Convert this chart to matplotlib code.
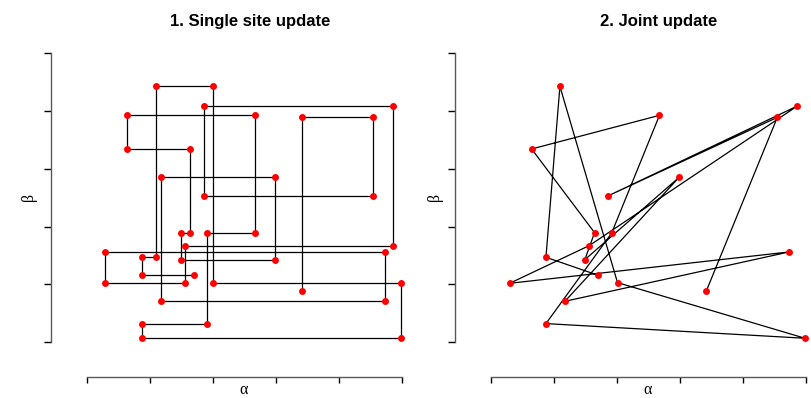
import matplotlib
matplotlib.use("Agg")
import matplotlib.pyplot as plt
import numpy as np

# Full-sweep samples (alpha_t, beta_t), in order
alpha = [1.702, 0.872, 1.094, 2.008, 4.984, 0.872, 1.913, 2.674, 0.645, 1.644,
         1.490, 2.986, 1.173, 4.730, 0.296, 1.559, 4.863, 1.855, 4.545, 3.420]
beta = [1.155, 1.467, 4.428, 1.028, 0.064, 0.318, 1.882, 3.926, 3.343, 1.894,
        1.426, 2.852, 0.704, 1.559, 1.016, 1.669, 4.088, 2.529, 3.891, 0.889]
ticks = [0, 1, 2, 3, 4, 5]
titles = ["1. Single site update", "2. Joint update"]

W, H = 811, 398
fig = plt.figure(figsize=(W / 100, H / 100), dpi=100)

def px_axes(x0, x1, ytop, ybot):
    return fig.add_axes([x0 / W, (H - ybot) / H, (x1 - x0) / W, (ybot - ytop) / H])

def style(ax, left_off):
    ax.set_xlim(-0.2, 5.2)
    ax.set_ylim(-0.2, 5.2)
    for s in ["top", "right"]:
        ax.spines[s].set_visible(False)
    ax.spines["left"].set_position(("outward", left_off))
    ax.spines["bottom"].set_position(("outward", 16.7))
    ax.spines["left"].set_bounds(0, 5)
    ax.spines["bottom"].set_bounds(0, 5)
    for s in ["left", "bottom"]:
        ax.spines[s].set_color("0.35")
        ax.spines[s].set_linewidth(1.0)
    ax.set_xticks(ticks)
    ax.set_yticks(ticks)
    ax.set_xticklabels([])
    ax.set_yticklabels([])
    ax.tick_params(axis="y", length=5, width=1.0, color="black")
    ax.tick_params(axis="x", length=4.5, width=1.0, color="black")
    ax.patch.set_visible(False)

# Left panel: single-site path (alpha update, then beta update)
ax1 = px_axes(74.1, 414.6, 41.8, 353.5)
style(ax1, 16.3)
xp, yp = [alpha[0]], [beta[0]]
for t in range(1, len(alpha)):
    xp.append(alpha[t]); yp.append(beta[t - 1])
    xp.append(alpha[t]); yp.append(beta[t])
ax1.plot(xp, yp, color="black", lw=0.9, zorder=2)
ax1.plot(xp, yp, linestyle="none", marker="o", ms=5, color="red",
         markeredgewidth=0, zorder=3, clip_on=False)

# Right panel: joint update
ax2 = px_axes(478.4, 818.6, 41.8, 353.5)
style(ax2, 16.8)
ax2.plot(alpha, beta, color="black", lw=0.9, zorder=2)
ax2.plot(alpha, beta, linestyle="none", marker="o", ms=5, color="red",
         markeredgewidth=0, zorder=3, clip_on=False)

# Titles and labels
tfont = dict(family="Liberation Sans", weight="bold", size=12)
fig.text(250 / W, (H - 26) / H, titles[0], ha="center", va="baseline", **tfont)
fig.text(659 / W, (H - 26) / H, titles[1], ha="center", va="baseline", **tfont)
lfont = dict(family="Liberation Serif", size=11.5)
for xa, xb in [(244, 29.5), (648, 434.5)]:
    fig.text(xa / W, (H - 389.5) / H, "α", ha="center", va="center", **lfont)
    fig.text(xb / W, (H - 197.5) / H, "β", ha="center", va="center",
             rotation=90, **lfont)

fig.savefig("out.png", dpi=100)
